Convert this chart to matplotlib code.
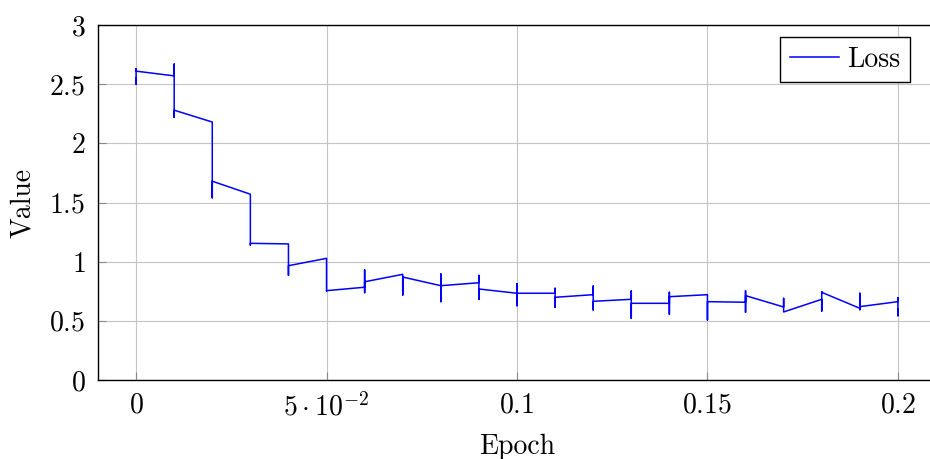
import matplotlib
matplotlib.use("Agg")
import matplotlib.pyplot as plt
from matplotlib.ticker import FixedLocator, FixedFormatter

plt.rcParams["font.family"] = ["cmr10", "DejaVu Serif"]
plt.rcParams["mathtext.fontset"] = "cm"
plt.rcParams["axes.formatter.use_mathtext"] = True

# Epoch value (rounded to two decimals) logged with each training step
epochs = [0.00, 0.01, 0.02, 0.03, 0.04, 0.05, 0.06, 0.07, 0.08, 0.09, 0.10,
          0.11, 0.12, 0.13, 0.14, 0.15, 0.16, 0.17, 0.18, 0.19, 0.20]

# Step losses recorded while the rounded epoch value stays the same
step_losses = [
    [2.55, 2.50, 2.63, 2.61],
    [2.57, 2.67, 2.22, 2.28],
    [2.18, 1.90, 1.54, 1.68],
    [1.57, 1.38, 1.14, 1.155],
    [1.15, 0.885, 0.966],
    [1.028, 0.84, 0.752, 0.755],
    [0.784, 0.93, 0.738, 0.83],
    [0.893, 0.718, 0.87],
    [0.797, 0.896, 0.662, 0.797],
    [0.822, 0.884, 0.682, 0.769],
    [0.733, 0.814, 0.628, 0.733],
    [0.733, 0.775, 0.614, 0.699],
    [0.721, 0.794, 0.592, 0.665],
    [0.682, 0.752, 0.521, 0.648],
    [0.648, 0.741, 0.555, 0.704],
    [0.721, 0.507, 0.662],
    [0.657, 0.755, 0.572, 0.713],
    [0.617, 0.690, 0.575],
    [0.682, 0.583, 0.746, 0.741],
    [0.606, 0.733, 0.594, 0.620],
    [0.662, 0.696, 0.543, 0.600],
]

x_ticks = [0.0, 0.05, 0.1, 0.15, 0.2]
x_tick_labels = ["$0$", r"$5\cdot10^{-2}$", "$0.1$", "$0.15$", "$0.2$"]
y_ticks = [0.0, 0.5, 1.0, 1.5, 2.0, 2.5, 3.0]
y_tick_labels = ["$0$", "$0.5$", "$1$", "$1.5$", "$2$", "$2.5$", "$3$"]

xs, ys = [], []
for ep, vals in zip(epochs, step_losses):
    for v in vals:
        xs.append(ep)
        ys.append(v)

W, H = 930, 459
fig = plt.figure(figsize=(W / 100, H / 100), dpi=100)
left, right, top, bottom = 98, 936, 25, 380
ax = fig.add_axes([left / W, (H - bottom) / H, (right - left) / W, (bottom - top) / H])

ax.plot(xs, ys, color="#0000ff", linewidth=1.1, label="Loss")

ax.set_xlim(-0.01, 0.21)
ax.set_ylim(0, 3)
ax.xaxis.set_major_locator(FixedLocator(x_ticks))
ax.xaxis.set_major_formatter(FixedFormatter(x_tick_labels))
ax.yaxis.set_major_locator(FixedLocator(y_ticks))
ax.yaxis.set_major_formatter(FixedFormatter(y_tick_labels))

ax.grid(True, color="#c4c4c4", linewidth=0.8)
ax.set_axisbelow(True)
ax.tick_params(direction="in", length=6, width=0.8, color="#8a8a8a",
               labelsize=20, pad=9)
for s in ax.spines.values():
    s.set_linewidth(1.0)
    s.set_color("black")

ax.set_xlabel("Epoch", fontsize=20, labelpad=9)
ax.set_ylabel("Value", fontsize=20, labelpad=10)

leg = ax.legend(loc="upper right", bbox_to_anchor=(910 / W, 1 - 36.7 / H),
                bbox_transform=fig.transFigure, borderaxespad=0,
                fontsize=20, handlelength=1.75, handletextpad=0.3,
                borderpad=0.35, fancybox=False, framealpha=1,
                edgecolor="black")
leg.get_frame().set_linewidth(1.0)

fig.savefig("out.png", dpi=100)
